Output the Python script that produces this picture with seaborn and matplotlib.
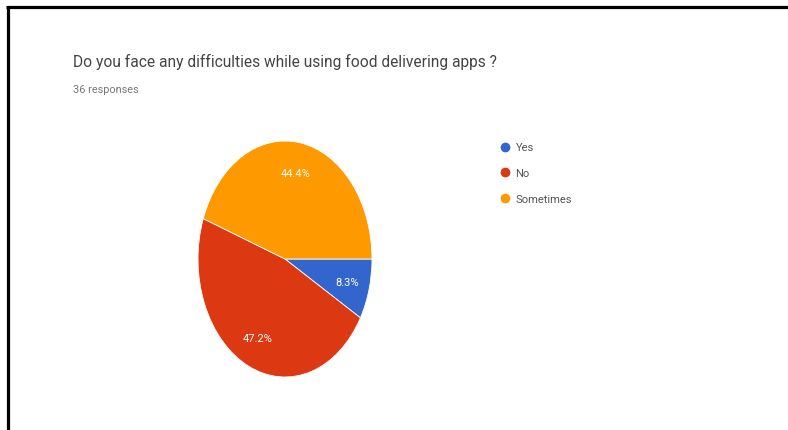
import matplotlib
matplotlib.use("Agg")
import matplotlib.pyplot as plt
from matplotlib.lines import Line2D
import seaborn as sns

categories = ["Yes", "No", "Sometimes"]
shares = [8.3, 47.2, 44.4]
colors = ["#3366CC", "#DC3912", "#FF9900"]
title = "Do you face any difficulties while using food delivering apps ?"
subtitle = "36 responses"

sns.set_theme(style="white")
plt.rcParams["font.family"] = ["Roboto", "DejaVu Sans"]

W, H = 788, 431
fig = plt.figure(figsize=(W / 100, H / 100), dpi=100)
fig.patch.set_facecolor("white")

# pie axes (elliptical pie)
cx, cy, rx, ry = 285, 260, 87, 118
ax = fig.add_axes([(cx - rx) / W, (H - (cy + ry)) / H, 2 * rx / W, 2 * ry / H])
wedges, texts, autotexts = ax.pie(
    shares, colors=colors, startangle=0, counterclock=False,
    autopct=lambda p: f"{p:.1f}%", pctdistance=0.74,
    wedgeprops=dict(edgecolor="white", linewidth=0.6),
    textprops=dict(color="white", fontsize=8),
)
ax.set_aspect("auto")
ax.set_xlim(-1, 1)
ax.set_ylim(-1, 1)
ax.axis("off")

fig.text(73 / W, 1 - 62 / H, title, fontsize=11.2, color="#444444", va="center", ha="left")
fig.text(73 / W, 1 - 90 / H, subtitle, fontsize=7.8, color="#777777", va="center", ha="left")

handles = [Line2D([0], [0], marker="o", linestyle="", markersize=6,
                  markerfacecolor=c, markeredgecolor=c) for c in colors]
leg = fig.legend(handles, categories, loc="upper left",
                 bbox_to_anchor=(495 / W, 1 - 139 / H), frameon=False,
                 fontsize=8, labelspacing=1.4, handletextpad=0.45,
                 handlelength=1.0, borderaxespad=0)
for t in leg.get_texts():
    t.set_color("#555555")

# black frame lines at top and left
fig.add_artist(Line2D([7.5 / W, 7.5 / W], [0, 1 - 7.5 / H], transform=fig.transFigure,
                      color="black", linewidth=2.3, solid_capstyle="butt"))
fig.add_artist(Line2D([6 / W, 1], [1 - 7.5 / H, 1 - 7.5 / H], transform=fig.transFigure,
                      color="black", linewidth=2.3, solid_capstyle="butt"))

fig.savefig("out.png", dpi=100, facecolor="white")
